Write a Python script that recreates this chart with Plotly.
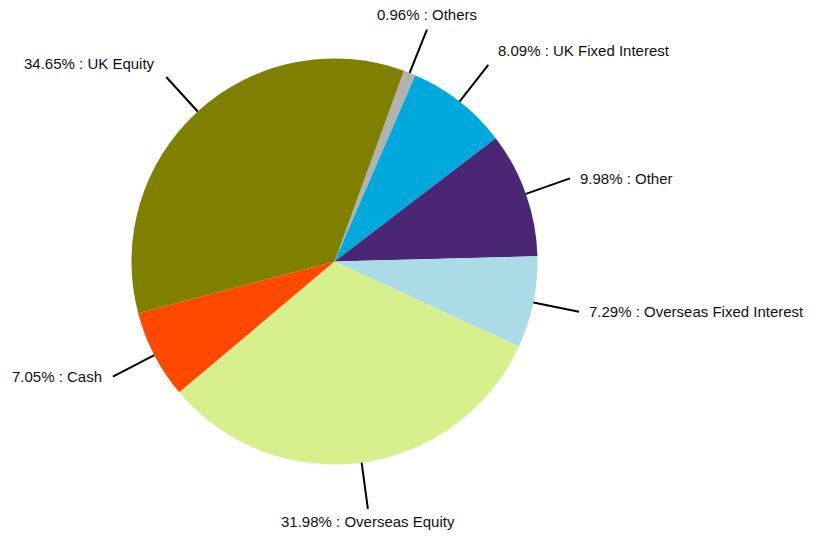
import math
import plotly.graph_objects as go

# Asset allocation, listed clockwise starting just right of 12 o'clock
categories = ["Others", "UK Fixed Interest", "Other", "Overseas Fixed Interest",
              "Overseas Equity", "Cash", "UK Equity"]
weights = [0.96, 8.09, 9.98, 7.29, 31.98, 7.05, 34.65]
colors = ["#b2b2b2", "#00a9dc", "#4a2674", "#aadbe7",
          "#d5f08d", "#ff4800", "#7f7f00"]

W, H = 814, 536
CX, CY, R = 334.5, 261.5, 203.0   # pie centre and radius, in pixels
START = 20.0                      # first slice starts this many degrees past 12 o'clock

def px_to_paper(x, y):
    return x / W, 1 - y / H

fig = go.Figure(go.Pie(
    labels=categories,
    values=weights,
    sort=False,
    direction="clockwise",
    rotation=START,
    marker=dict(colors=colors, line=dict(width=0)),
    textinfo="none",
    hoverinfo="label+percent",
    showlegend=False,
    domain=dict(x=[(CX - R) / W, (CX + R) / W],
                y=[1 - (CY + R) / H, 1 - (CY - R) / H]),
))

# Leader lines and labels at each slice's mid angle
total = sum(weights)
acc = 0.0
shapes, annotations = [], []
for name, v in zip(categories, weights):
    mid = math.radians(START + 360.0 * (acc + v / 2) / total)
    acc += v
    dx, dy = math.sin(mid), -math.cos(mid)
    x0, y0 = CX + R * dx, CY + R * dy
    x1, y1 = CX + 1.23 * R * dx, CY + 1.23 * R * dy
    p0, p1 = px_to_paper(x0, y0), px_to_paper(x1, y1)
    shapes.append(dict(type="line", xref="paper", yref="paper",
                       x0=p0[0], y0=p0[1], x1=p1[0], y1=p1[1],
                       line=dict(color="#000000", width=2)))
    text = f"{v:.2f}% : {name}"
    if abs(dx) < 0.45:
        xanchor, yanchor = "center", ("bottom" if dy < 0 else "top")
        xs, ys = 0, (5 if dy < 0 else -2)
    else:
        xanchor, yanchor = ("left" if dx > 0 else "right"), "middle"
        xs = 8 if dx > 0 else -9
        ys = 14 if dy < -0.6 else 0
    annotations.append(dict(x=p1[0], y=p1[1], xref="paper", yref="paper",
                            text=text, showarrow=False,
                            xanchor=xanchor, yanchor=yanchor,
                            xshift=xs, yshift=ys,
                            font=dict(family="Liberation Sans, Arial, sans-serif",
                                      size=15, color="#111111")))

fig.update_layout(
    width=W, height=H,
    margin=dict(l=0, r=0, t=0, b=0),
    paper_bgcolor="#ffffff",
    plot_bgcolor="#ffffff",
    shapes=shapes,
    annotations=annotations,
)

fig.write_html("out.html")
